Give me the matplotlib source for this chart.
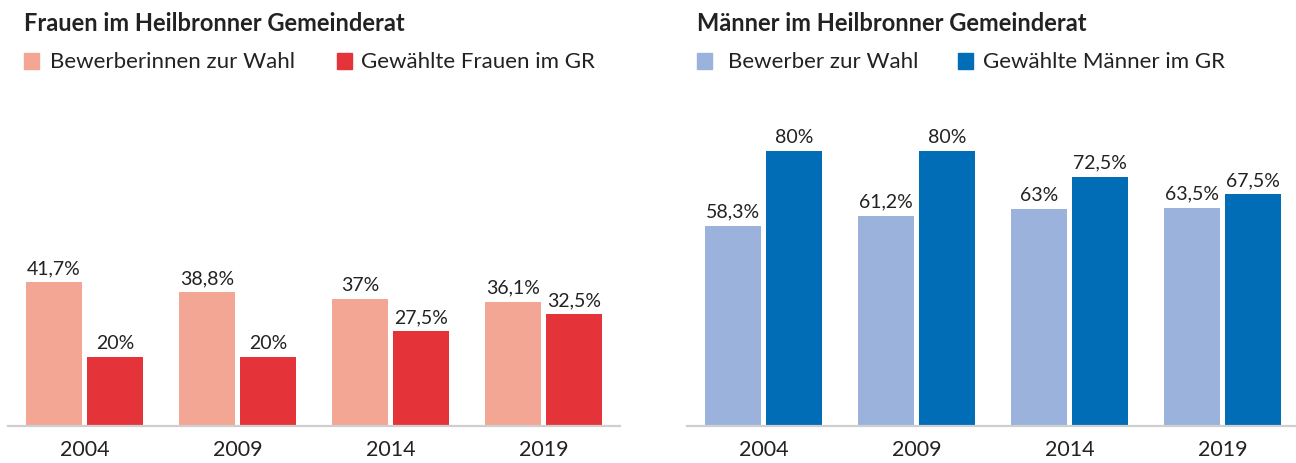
import numpy as np
import matplotlib.pyplot as plt
from matplotlib.patches import Rectangle

plt.rcParams['font.family'] = ['Lato', 'DejaVu Sans']

years = ['2004', '2009', '2014', '2019']
frauen_bewerber = [41.7, 38.8, 37.0, 36.1]
frauen_gewaehlt = [20.0, 20.0, 27.5, 32.5]
maenner_bewerber = [58.3, 61.2, 63.0, 63.5]
maenner_gewaehlt = [80.0, 80.0, 72.5, 67.5]

W, H = 1296, 464
fig = plt.figure(figsize=(W / 100, H / 100), dpi=100)

txt_col = '#222222'
base_y = 426.5
px_per_pct = 3.43
ax_h = 326.5


def fx(px):
    return px / W


def fy(py):
    return 1 - py / H


def fmt(v):
    return f"{v:g}".replace('.', ',') + '%'


def panel(left_px, vals1, vals2, c1, c2):
    ax = fig.add_axes([fx(left_px), fy(base_y), fx(612), ax_h / H])
    x = np.arange(len(years))
    off, bw = 0.199, 0.366
    b1 = ax.bar(x - off, vals1, bw, color=c1)
    b2 = ax.bar(x + off, vals2, bw, color=c2)
    for bars, vals in ((b1, vals1), (b2, vals2)):
        for r, v in zip(bars, vals):
            ax.annotate(fmt(v), (r.get_x() + r.get_width() / 2, v),
                        xytext=(0, 6.5), textcoords='offset points',
                        ha='center', va='baseline', fontsize=14, color=txt_col)
    ax.set_xlim(-0.5, 3.5)
    ax.set_ylim(0, ax_h / px_per_pct)
    ax.set_xticks(x)
    ax.set_xticklabels(years, fontsize=15.5, color=txt_col)
    ax.tick_params(axis='x', length=0, pad=10)
    ax.set_yticks([])
    for s in ('top', 'left', 'right'):
        ax.spines[s].set_visible(False)
    ax.spines['bottom'].set_color('#cfcfcf')
    ax.spines['bottom'].set_linewidth(1.6)
    return ax


def header(x0, title, items):
    fig.text(fx(x0), fy(31), title, fontsize=17, fontweight='bold',
             color=txt_col, ha='left', va='baseline')
    for sq_x, tx, label, col in items:
        fig.patches.append(Rectangle((fx(sq_x), fy(70)), fx(15), 16 / H,
                                     transform=fig.transFigure, color=col))
        fig.text(fx(tx), fy(62), label, fontsize=16, color=txt_col,
                 ha='left', va='center')


c_fl, c_fd = '#F4A695', '#E5333A'
c_ml, c_md = '#9AB2DC', '#006DB6'

panel(8, frauen_bewerber, frauen_gewaehlt, c_fl, c_fd)
panel(687, maenner_bewerber, maenner_gewaehlt, c_ml, c_md)

header(24, 'Frauen im Heilbronner Gemeinderat',
       [(24, 50, 'Bewerberinnen zur Wahl', c_fl),
        (337, 361, 'Gewählte Frauen im GR', c_fd)])
header(697, 'Männer im Heilbronner Gemeinderat',
       [(697, 728, 'Bewerber zur Wahl', c_ml),
        (958, 983, 'Gewählte Männer im GR', c_md)])

fig.savefig('out.png', dpi=100)
